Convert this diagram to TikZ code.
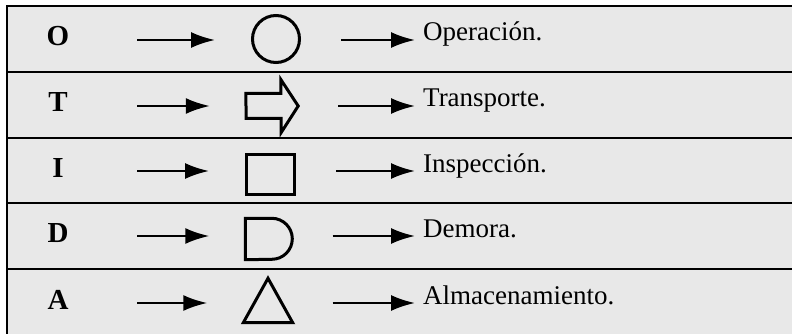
\documentclass[tikz,border=0pt]{standalone}
\usepackage{fontspec}
\setmainfont{Liberation Serif}
\usetikzlibrary{calc, positioning, arrows.meta}
\tikzset{
  letra/.style={font=\fontsize{29}{32}\selectfont\bfseries, inner sep=0pt},
  texto/.style={font=\fontsize{27}{30}\selectfont, inner sep=0pt},
  flecha/.style={line width=2.3pt, -{Latex[length=24pt,width=16pt]}},
  trazo/.style={line width=3pt, line join=miter},
  linea/.style={line width=2.4pt},
  hueco/.style={inner sep=0pt, minimum width=#1}
}
\newcommand\fila[4]{\coordinate (a#3) at (137,#1);
\node[letra, anchor=base] (let#3) at (58,{#1+6}) {#2};
\node[texto, anchor=base west] (txt#3) at (423,{#1+1}) {#4};
\draw[flecha, shorten >=36pt] (a#3) -- (sym#3.west |- a#3);
\draw[flecha, shorten <=40pt, shorten >=8pt] (sym#3.east |- a#3) -- (txt#3.west |- a#3);}

\begin{document}
\begin{tikzpicture}[x=1pt,y=-1pt]
\useasboundingbox (0,0) rectangle (792,334);
\fill[black!9] (7,6) rectangle (792,334);
\draw[linea] (792,6) -- (7,6) -- (7,334);
\foreach \yy in {72,138,203,269}
  \draw[linea] (7,\yy) -- (792,\yy);

\node[trazo, draw, circle, minimum size=47pt] (symO) at (276,39) {};
\node[hueco=52pt, minimum height=53pt] (symT) at (272,106) {};
\draw[trazo] (symT.west) ++(0,-12.5) -- ++(35,0) -- ++(0,-14) -- (symT.east) -- ++(-17,26.5) -- ++(0,-14) -- ++(-35,0) -- cycle;
\node[trazo, draw, minimum width=48pt, minimum height=40pt] (symI) at (270.5,174) {};
\node[hueco=47pt, minimum height=41pt] (symD) at (269,239) {};
\draw[trazo] (symD.south west) -- (symD.north west) -- ++(26.5,0) arc[start angle=90, end angle=-90, radius=20.5pt] -- cycle;
\node[hueco=49pt, minimum height=44pt] (symA) at (268,300.5) {};
\draw[trazo] (symA.south west) -- (symA.south east) -- (symA.north) -- cycle;

\fila{40}{O}{O}{Operación.}
\fila{106}{T}{T}{Transporte.}
\fila{171}{I}{I}{Inspección.}
\fila{236}{D}{D}{Demora.}
\fila{303}{A}{A}{Almacenamiento.}
\end{tikzpicture}
\end{document}
